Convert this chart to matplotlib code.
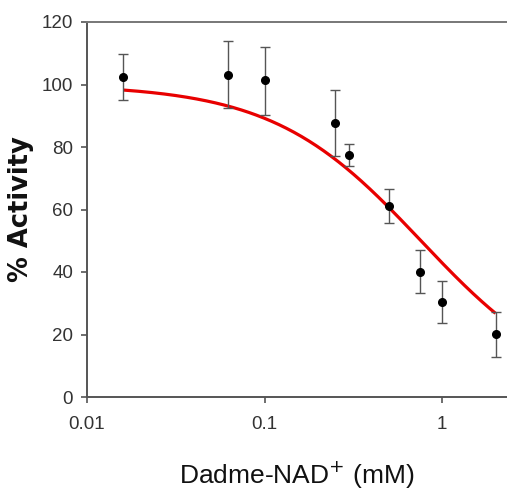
import numpy as np
import matplotlib
matplotlib.use("Agg")
import matplotlib.pyplot as plt

# Data
conc = [0.016, 0.0625, 0.1, 0.25, 0.30, 0.5, 0.75, 1.0, 2.0]
activity = [102.4, 103.0, 101.4, 87.7, 77.6, 61.2, 40.1, 30.3, 20.1]
err_hi = [109.8, 113.8, 112.0, 98.3, 81.0, 66.6, 47.0, 37.1, 27.1]
err_lo = [95.0, 92.5, 90.4, 77.0, 74.0, 55.6, 33.2, 23.6, 12.9]

# Fitted dose-response curve parameters
fit_top = 100.0
fit_ic50 = 0.76
fit_hill = 1.04
fit_range = (0.016, 2.0)

x_ticks = [0.01, 0.1, 1]
x_ticklabels = ["0.01", "0.1", "1"]
y_ticks = [0, 20, 40, 60, 80, 100, 120]

plt.rcParams['font.family'] = ['Liberation Sans', 'DejaVu Sans']

fig = plt.figure(figsize=(5.07, 4.93), dpi=100)
ax = fig.add_axes([87/507, 1-397/493, 1-87/507, (397-22)/493])

xs = np.logspace(np.log10(fit_range[0]), np.log10(fit_range[1]), 300)
ys = fit_top / (1 + (xs / fit_ic50) ** fit_hill)
ax.plot(xs, ys, color='#e80000', lw=2.3, zorder=2, solid_capstyle='butt')

act = np.array(activity)
yerr = np.vstack([act - np.array(err_lo), np.array(err_hi) - act])
ax.errorbar(conc, act, yerr=yerr, fmt='o', color='black', ms=5.5,
            ecolor='#555555', elinewidth=1.0, capsize=3.4, capthick=1.0, zorder=3)

ax.set_xscale('log')
ax.set_xlim(0.01, 2.32)
ax.set_ylim(0, 120)
ax.set_xticks(x_ticks)
ax.set_xticklabels(x_ticklabels)
ax.minorticks_off()
ax.set_yticks(y_ticks)

for s in ['left', 'bottom', 'top']:
    ax.spines[s].set_color('#555555')
    ax.spines[s].set_linewidth(1.4)
ax.spines['top'].set_color('#777777')
ax.spines['right'].set_visible(False)

ax.tick_params(axis='both', direction='out', length=4, width=1.2, color='#555555',
               labelsize=13.5, labelcolor='#333333')
ax.tick_params(axis='x', pad=10)
ax.tick_params(axis='y', pad=6)

ax.set_ylabel('% Activity', fontsize=18.5, fontweight='bold', family='DejaVu Sans',
              color='#111111')
ax.yaxis.set_label_coords(-0.125, 0.5)
ax.set_xlabel('Dadme-NAD$^{+}$ (mM)', fontsize=19, color='#111111', labelpad=19)

fig.savefig('out.png', dpi=100)
